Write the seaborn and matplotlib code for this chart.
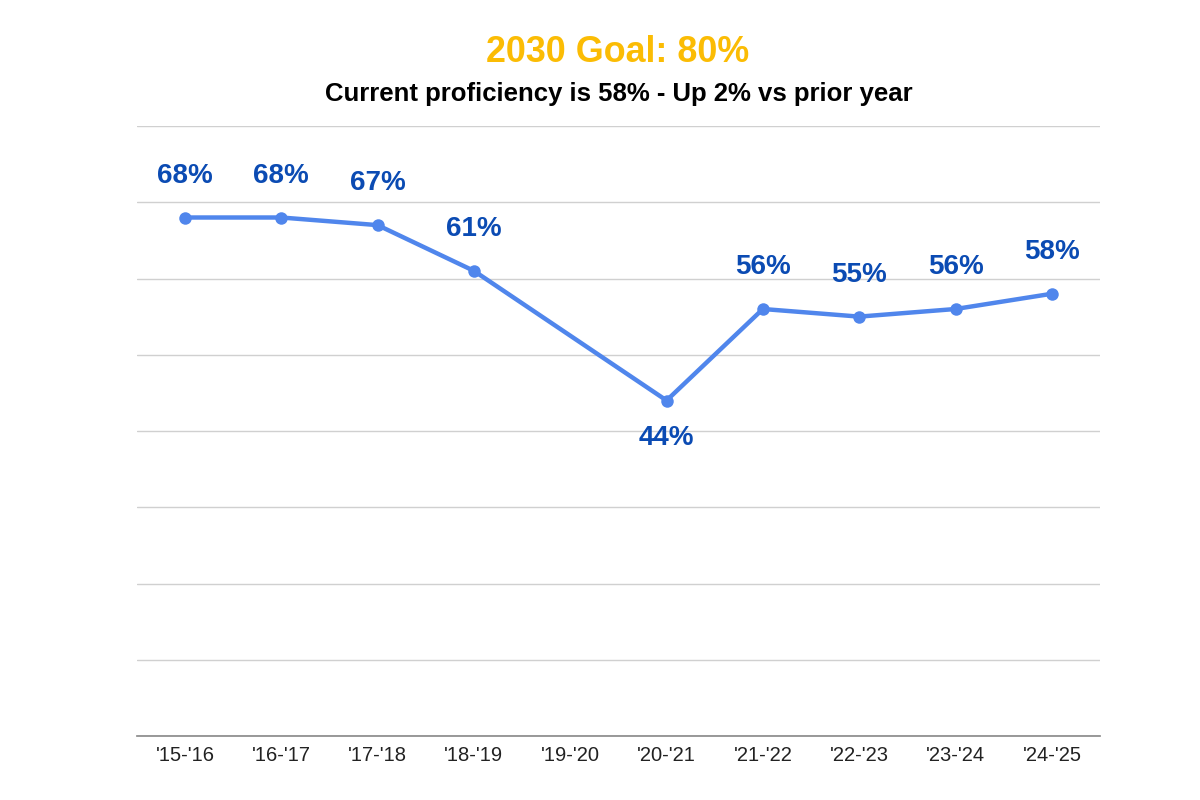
import numpy as np
import pandas as pd
import matplotlib
matplotlib.use("Agg")
import matplotlib.pyplot as plt
import seaborn as sns

# school years and proficiency (%); '19-'20 has no data
years = ["'15-'16", "'16-'17", "'17-'18", "'18-'19", "'19-'20",
         "'20-'21", "'21-'22", "'22-'23", "'23-'24", "'24-'25"]
proficiency = [68, 68, 67, 61, np.nan, 44, 56, 55, 56, 58]

df = pd.DataFrame({"pos": range(len(years)), "year": years, "pct": proficiency})
pts = df.dropna()

sns.set_theme(style="white")
plt.rcParams["font.family"] = ["Liberation Sans", "DejaVu Sans"]

fig = plt.figure(figsize=(12, 8), dpi=100)
ax = fig.add_axes([0.114, 0.08, 0.8027, 0.7625])

line_col = "#5086ec"
label_col = "#0b4bb3"

sns.lineplot(data=pts, x="pos", y="pct", ax=ax, color=line_col, linewidth=3.2,
             marker="o", markersize=9, markeredgewidth=0)

for _, r in pts.iterrows():
    below = r["pct"] < 50
    ax.annotate(f"{int(r['pct'])}%", (r["pos"], r["pct"]),
                xytext=(0, -27 if below else 30), textcoords="offset points",
                ha="center", va="center", fontsize=20, fontweight="bold",
                color=label_col)

ax.set_xlim(-0.5, len(years) - 0.5)
ax.set_ylim(0, 80)
ax.set_xticks(range(len(years)))
ax.set_xticklabels(years, fontsize=14.5, color="#222222")
ax.set_yticks(np.arange(0, 81, 10))
ax.set_yticklabels([])
ax.tick_params(axis="y", length=0)
ax.tick_params(axis="x", length=0, pad=7)
ax.yaxis.grid(True, color="#d0d0d0", linewidth=1)
ax.set_axisbelow(True)
for s in ["top", "right", "left"]:
    ax.spines[s].set_visible(False)
ax.spines["bottom"].set_color("#8c8c8c")
ax.set_xlabel("")
ax.set_ylabel("")

fig.text(0.515, 0.935, "2030 Goal: 80%", ha="center", va="center",
         fontsize=25.8, fontweight="bold", color="#fbbc04")
fig.text(0.516, 0.882, "Current proficiency is 58% - Up 2% vs prior year",
         ha="center", va="center", fontsize=18.5, fontweight="bold", color="black")

fig.savefig("out.png", dpi=100)
